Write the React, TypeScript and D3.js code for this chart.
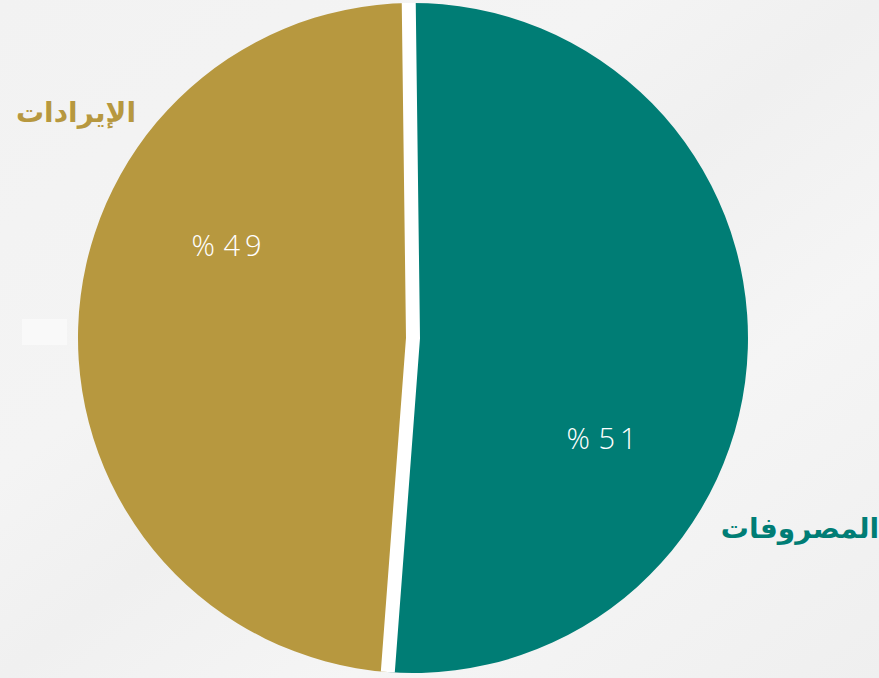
import React from "react";
import * as d3 from "d3";

const categories = ["المصروفات", "الإيرادات"];
const shares = [51.4, 48.6];
const labels = ["% 51", "% 49"];
const colors = ["#007D75", "#B7983F"];

const W = 879;
const H = 678;
const cx = 413;
const cy = 338;
const R = 335;

export default function App() {
  const pie = d3
    .pie<number>()
    .sort(null)
    .startAngle(-0.0127)
    .endAngle(-0.0127 + Math.PI * 2);
  const arcs = pie(shares);
  const arc = d3.arc<d3.PieArcDatum<number>>().innerRadius(0).outerRadius(R);

  const pt = (a: number, r: number) => [Math.sin(a) * r, -Math.cos(a) * r];
  const b0 = pt(arcs[0].startAngle, R);
  const b1 = pt(arcs[0].endAngle, R);
  const gapPath = `M${b0[0]},${b0[1]}L0,0L${b1[0]},${b1[1]}`;

  const labelPos = arcs.map((a, i) =>
    pt((a.startAngle + a.endAngle) / 2 + (i === 0 ? 0.46 : 0.43), 211)
  );

  return (
    <svg
      width={W}
      height={H}
      style={{ position: "absolute", left: 0, top: 0, display: "block" }}
    >
      <defs>
        <linearGradient id="bg" x1="0" y1="0" x2="1" y2="1">
          <stop offset="0" stopColor="#f2f2f2" />
          <stop offset="0.35" stopColor="#f4f4f4" />
          <stop offset="0.5" stopColor="#f0f0f0" />
          <stop offset="0.7" stopColor="#f5f5f5" />
          <stop offset="1" stopColor="#efefef" />
        </linearGradient>
      </defs>
      <rect width={W} height={H} fill="url(#bg)" />
      <rect x={22} y={319} width={45} height={26} fill="#f9f9f9" />
      <g transform={`translate(${cx},${cy})`}>
        {arcs.map((a, i) => (
          <path key={i} d={arc(a) || ""} fill={colors[i]} />
        ))}
        <path
          d={gapPath}
          fill="none"
          stroke="#ffffff"
          strokeWidth={14}
          strokeLinejoin="miter"
        />
        {arcs.map((a, i) => (
          <text
            key={"l" + i}
            x={labelPos[i][0] + 5}
            y={labelPos[i][1]}
            textAnchor="middle"
            dominantBaseline="central"
            fill="#ffffff"
            fontFamily="'Open Sans', 'Noto Sans', sans-serif"
            fontWeight={300}
            fontSize={29}
            letterSpacing={5}
            wordSpacing={-9}
            style={{ direction: "ltr" }}
          >
            {labels[i]}
          </text>
        ))}
      </g>
      <text
        x={800}
        y={528}
        textAnchor="middle"
        dominantBaseline="central"
        fill={colors[0]}
        fontFamily="'DejaVu Sans', sans-serif"
        fontWeight="bold"
        fontSize={28}
      >
        {categories[0]}
      </text>
      <text
        x={76}
        y={112}
        textAnchor="middle"
        dominantBaseline="central"
        fill={colors[1]}
        fontFamily="'DejaVu Sans', sans-serif"
        fontWeight="bold"
        fontSize={28}
      >
        {categories[1]}
      </text>
    </svg>
  );
}
